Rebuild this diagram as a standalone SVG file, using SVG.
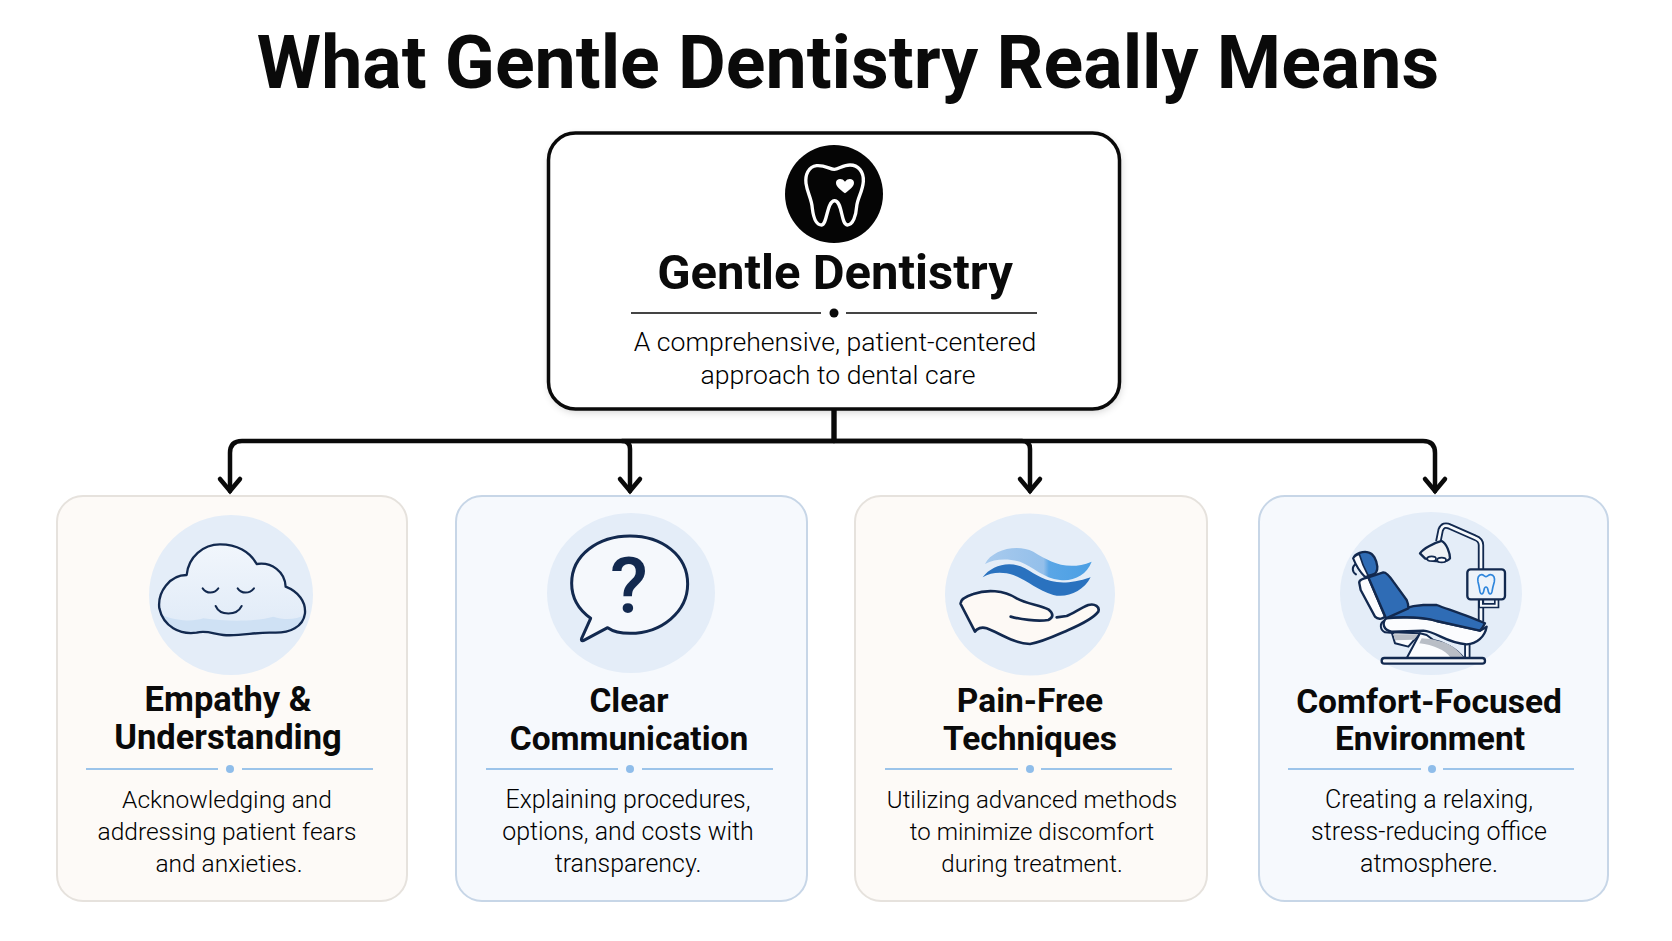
<svg xmlns="http://www.w3.org/2000/svg" width="1672" height="941" viewBox="0 0 1672 941">
<style>
text{font-family:Roboto,"Noto Sans","Liberation Sans",sans-serif;text-anchor:middle;fill:#0a0a0a}
.title{font-size:73.500px;font-weight:700}
.head{font-size:49px;font-weight:700}
.sub{font-size:26.600px;font-weight:300;fill:#000}
.ct{font-size:33.500px;font-weight:700}
.cb{font-size:24.900px;font-weight:300;fill:#000}
.warm{fill:#fdfaf7;stroke:#e6e2dd;stroke-width:2}
.cool{fill:#f6f9fd;stroke:#c7d6e7;stroke-width:2}
.disc{fill:#e4edf8}
.rule{stroke:#9cc4ea;stroke-width:2}
.dot{fill:#8fbdea}
.conn{fill:none;stroke:#0a0a0a;stroke-width:4.500;stroke-linecap:round;stroke-linejoin:round;marker-end:url(#chev)}
.n{stroke:#12294f;stroke-linejoin:round;stroke-linecap:round}
.w{fill:#fbfcfe}
.b{fill:#2f6cb5}
</style>
<defs>
<marker id="chev" markerUnits="userSpaceOnUse" markerWidth="30" markerHeight="30" refX="24" refY="15" orient="auto" viewBox="0 0 30 30">
<path d="M 12,5 L 24,15 L 12,25" fill="none" stroke="#0a0a0a" stroke-width="4.500" stroke-linecap="round" stroke-linejoin="miter"/>
</marker>
<filter id="sh" x="-10%" y="-10%" width="120%" height="125%"><feGaussianBlur stdDeviation="5"/></filter>
<linearGradient id="w1" x1="0" x2="1"><stop offset="0" stop-color="#a9cbee"/><stop offset=".55" stop-color="#93bfea"/><stop offset=".6" stop-color="#5aa6e6"/><stop offset="1" stop-color="#4b9fe4"/></linearGradient>
<linearGradient id="cl" x1="0" x2="0" y1="0" y2="1"><stop offset="0" stop-color="#f1f6fc"/><stop offset="1" stop-color="#dfeaf7"/></linearGradient>
</defs>
<text id="title" class="title" x="848" y="88">What Gentle Dentistry Really Means</text>

<g id="connectors">
<path class="conn" d="M834,409 V441 H242 Q230,441 230,453 V491"/>
<path class="conn" d="M834,409 V441 H622 Q630,441 630,449 V491"/>
<path class="conn" d="M834,409 V441 H1022 Q1030,441 1030,449 V491"/>
<path class="conn" d="M834,409 V441 H1423 Q1435,441 1435,453 V491"/>
</g>

<g id="root">
<rect x="550" y="137" width="570" height="274" rx="27" fill="#000" opacity=".22" filter="url(#sh)"/>
<rect x="548.500" y="133" width="571" height="276" rx="27" fill="#fff" stroke="#0a0a0a" stroke-width="3.500"/>
<circle cx="834" cy="194" r="49" fill="#050505"/>
<g transform="translate(730 130) scale(.3333)">
<path d="M260,107 C235,110 225,135 228,160 C232,190 245,205 247,235 C250,260 258,285 275,285 C292,283 290,215 313,212 C338,212 332,283 352,285 C370,285 378,255 380,230 C382,205 398,185 400,155 C402,125 385,105 360,105 C340,105 325,118 313,118 C300,118 285,105 260,107 Z" fill="none" stroke="#fff" stroke-width="10"/>
<path d="M345,190 C330,178 318,170 318,158 C318,147 335,142 345,155 C355,142 372,147 372,158 C372,170 360,178 345,190 Z" fill="#fff"/>
</g>
<text class="head" x="835" y="289">Gentle Dentistry</text>
<path d="M631,313 H821 M846,313 H1037" stroke="#444" stroke-width="1.800"/>
<circle cx="834" cy="313" r="4.500" fill="#0a0a0a"/>
<text class="sub" x="835" y="351">A comprehensive, patient-centered</text>
<text class="sub" x="838" y="384">approach to dental care</text>
</g>

<g id="card-empathy">
<rect class="warm" x="57" y="496" width="350" height="405" rx="26"/>
<ellipse class="disc" cx="231" cy="595" rx="82" ry="80"/>
<g transform="translate(40 480) scale(.3333)">
<path d="M440,285 C445,230 490,193 540,193 C590,193 630,215 650,252 C695,245 735,275 737,320 C775,335 798,365 795,400 C790,440 750,460 700,458 C650,455 600,470 550,465 C520,462 500,450 470,458 C420,465 370,440 358,385 C352,335 390,285 440,285 Z" fill="url(#cl)" stroke="none"/>
<path d="M362,405 C420,425 460,425 490,415 C560,425 650,425 700,410 C730,420 770,420 793,405 C785,440 750,460 700,458 C650,455 600,470 550,465 C520,462 500,450 470,458 C420,465 380,440 362,405 Z" fill="#cfe1f4"/>
<path d="M440,285 C445,230 490,193 540,193 C590,193 630,215 650,252 C695,245 735,275 737,320 C775,335 798,365 795,400 C790,440 750,460 700,458 C650,455 600,470 550,465 C520,462 500,450 470,458 C420,465 370,440 358,385 C352,335 390,285 440,285 Z" class="n" fill="none" stroke-width="7"/>
<path d="M488,325 C500,342 522,342 535,325 M593,325 C605,342 628,342 642,325 M527,378 C540,408 590,408 605,378" class="n" fill="none" stroke-width="6"/>
</g>
<text class="ct" x="228" y="711" style="font-size:34.500px">Empathy &amp;</text>
<text class="ct" x="228" y="748.500" style="font-size:34.500px">Understanding</text>
<path class="rule" d="M86,769 H218 M242,769 H373"/>
<circle class="dot" cx="230" cy="769" r="4"/>
<text class="cb" x="227" y="807.500" style="font-size:24.500px">Acknowledging and</text>
<text class="cb" x="227" y="839.500" style="font-size:24.500px">addressing patient fears</text>
<text class="cb" x="229" y="871.500" style="font-size:24.500px">and anxieties.</text>
</g>

<g id="card-communication">
<rect class="cool" x="456" y="496" width="351" height="405" rx="26"/>
<ellipse class="disc" cx="631" cy="593" rx="84" ry="80"/>
<g transform="translate(440 480) scale(.3333)">
<path d="M452,415 C410,385 395,345 395,310 C395,225 475,168 570,168 C665,168 743,225 743,312 C743,395 665,460 570,460 C545,460 520,455 503,443 L430,482 Q422,484 425,475 Z" class="n" fill="#f5f8fc" stroke-width="9"/>
</g>
<text x="629" y="613" style="font-size:78px;font-weight:500;fill:#12294f">?</text>
<text class="ct" x="629" y="712">Clear</text>
<text class="ct" x="629" y="749.500">Communication</text>
<path class="rule" d="M486,769 H618 M642,769 H773"/>
<circle class="dot" cx="630" cy="769" r="4"/>
<text class="cb" x="628" y="807.500">Explaining procedures,</text>
<text class="cb" x="628" y="839.500">options, and costs with</text>
<text class="cb" x="628" y="871.500">transparency.</text>
</g>

<g id="card-techniques">
<rect class="warm" x="855" y="496" width="352" height="405" rx="26"/>
<ellipse class="disc" cx="1030" cy="594.500" rx="85" ry="81"/>
<g transform="translate(920 500) scale(.3333)">
<path d="M195,192 C215,150 290,130 340,155 C390,185 440,215 515,185 C500,225 460,245 420,240 C370,235 340,200 300,185 C265,175 225,175 195,192 Z" fill="url(#w1)"/>
<path d="M188,232 C215,195 270,180 315,205 C360,230 400,270 512,232 C490,275 440,295 400,285 C350,270 320,240 280,225 C250,215 215,215 188,232 Z" fill="#2a72bf"/>
<path d="M165,395 L122,312 C120,300 135,290 160,282 C200,268 250,270 290,295 C320,312 360,315 385,328 C400,340 402,352 395,358 L440,348 C460,340 480,325 505,315 C525,310 540,320 535,335 C520,355 480,375 445,390 C410,405 370,425 330,432 C280,430 240,400 200,385 C185,380 170,385 165,395 Z" fill="#fdf9f5"/>
<path d="M272,350 C300,358 350,365 385,360 C402,352 400,340 385,328 C360,315 320,312 290,295 C250,270 200,268 160,282 C135,290 120,300 122,312 L165,395 C170,385 185,380 200,385 C240,400 280,430 330,432 C370,425 410,405 445,390 C480,375 520,355 535,335 C540,320 525,310 505,315 C480,325 460,340 440,348 L410,352" class="n" fill="none" stroke-width="8"/>
</g>
<text class="ct" x="1030" y="712">Pain-Free</text>
<text class="ct" x="1030" y="750">Techniques</text>
<path class="rule" d="M885,769 H1018 M1041,769 H1172"/>
<circle class="dot" cx="1030" cy="769" r="4"/>
<text class="cb" x="1032" y="807.500" style="font-size:24px">Utilizing advanced methods</text>
<text class="cb" x="1032" y="839.500" style="font-size:24px">to minimize discomfort</text>
<text class="cb" x="1032" y="871.500" style="font-size:24px">during treatment.</text>
</g>

<g id="card-environment">
<rect class="cool" x="1259" y="496" width="349" height="405" rx="26"/>
<ellipse class="disc" cx="1431" cy="593.500" rx="91" ry="81.500"/>
<g transform="translate(1340 515) scale(.3333)">
<path d="M423,320 V90 Q423,75 405,68 L330,35 Q310,25 302,45 L295,80 M382,385 V430" fill="none" stroke="#12294f" stroke-width="19" stroke-linejoin="round"/>
<path d="M423,320 V90 Q423,75 405,68 L330,35 Q310,25 302,45 L295,80 M382,385 V430" fill="none" stroke="#f7fafd" stroke-width="8" stroke-linejoin="round"/>
<path d="M240,115 C250,100 280,85 305,78 C320,85 330,115 330,130 C320,145 280,140 255,130 Z" class="n" fill="#eef1f5" stroke-width="7"/>
<ellipse cx="275" cy="131" rx="13" ry="7" class="n" fill="#fff" stroke-width="5"/>
<ellipse cx="305" cy="135" rx="13" ry="7" class="n" fill="#fff" stroke-width="5"/>
<path d="M423,252 V272 H470 V252" fill="none" stroke="#12294f" stroke-width="16"/>
<path d="M423,252 V272 H470 V252" fill="none" stroke="#f7fafd" stroke-width="6"/>
<rect x="382" y="163" width="113" height="90" rx="10" class="n" fill="#edf3fa" stroke-width="7"/>
<path transform="translate(-60 -45)" d="M485,224 C475,224 472,235 474,245 C477,255 478,262 480,275 C482,285 490,285 492,270 C494,258 502,258 504,270 C506,285 514,285 516,275 C518,262 520,255 523,245 C525,235 522,224 512,224 C505,224 502,230 498,230 C494,230 491,224 485,224 Z" fill="none" stroke="#2f86dc" stroke-width="5"/>
<path d="M155,352 L165,385 L205,395 L240,355 Z" class="n w" stroke-width="6"/>
<path d="M160,358 L235,358 L222,374 L165,376 Z" fill="#b9bec6"/>
<path d="M240,355 L200,430 L372,430 C350,400 310,380 280,375 L260,360 Z" class="n w" stroke-width="6"/>
<path d="M245,370 C290,372 345,385 372,430 L332,428 C315,405 280,390 238,385 Z" fill="#b9bec6"/>
<rect x="125" y="429" width="310" height="17" rx="8" class="n" fill="#f4f6f9" stroke-width="7"/>
<path d="M132,318 C118,325 120,345 135,352 L160,354" class="n" fill="none" stroke-width="6"/>
<path d="M138,310 C125,325 130,345 155,350 L250,347 C290,350 320,385 380,388 C410,388 435,365 440,335 L420,347 L290,318 C260,308 200,305 138,310 Z" class="n w" stroke-width="7"/>
<path d="M140,308 C165,290 205,272 250,270 L290,270 C330,285 390,305 435,325 C430,335 425,342 420,347 L290,318 C260,308 200,305 140,308 Z" class="n b" stroke-width="7"/>
<path d="M58,205 C55,195 70,190 85,187 L135,305 C125,315 112,312 105,305 L62,225 Z" class="n w" stroke-width="7"/>
<path d="M85,187 L130,172 C140,172 150,185 160,200 L200,255 C205,265 205,272 205,280 L138,310 Z" class="n b" stroke-width="7"/>
<path d="M46,148 C36,155 35,170 48,178" class="n" fill="none" stroke-width="6"/>
<path d="M40,130 C45,115 70,108 85,112 C100,115 110,135 112,155 C113,170 105,178 95,180 L75,185 C60,170 48,150 40,130 Z" class="n b" stroke-width="7"/>
<path d="M40,130 C46,122 52,118 58,118 C64,140 75,165 85,183 L75,185 C60,170 48,150 40,130 Z" class="n w" stroke-width="5"/>
</g>
<text class="ct" x="1429" y="713">Comfort-Focused</text>
<text class="ct" x="1430" y="750">Environment</text>
<path class="rule" d="M1288,769 H1421 M1443,769 H1574"/>
<circle class="dot" cx="1432" cy="769" r="4"/>
<text class="cb" x="1429" y="807.500" style="font-size:25px">Creating a relaxing,</text>
<text class="cb" x="1429" y="839.500" style="font-size:25px">stress-reducing office</text>
<text class="cb" x="1429" y="871.500" style="font-size:25px">atmosphere.</text>
</g>
</svg>
